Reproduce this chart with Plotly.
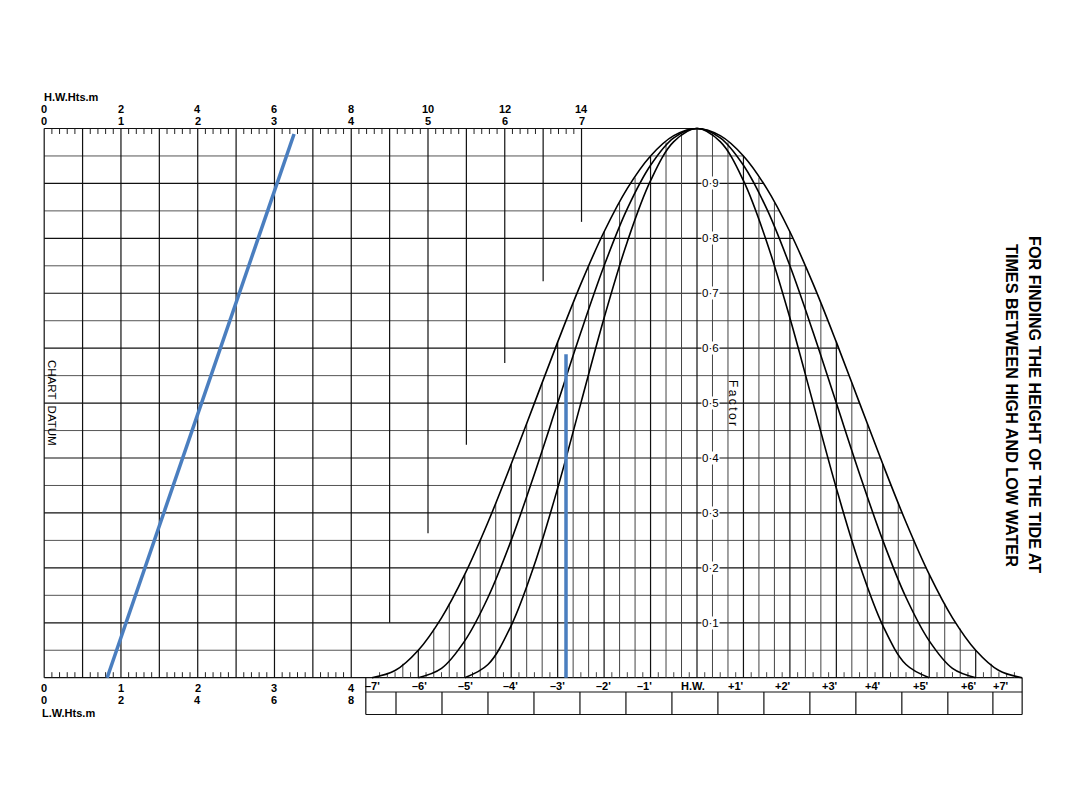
import numpy as np
import plotly.graph_objects as go

# ---------------- data ----------------
# Tidal curves (hours from High Water -> factor), three durations
curve7_hours = [-7, -6.5, -6, -5.5, -5, -4.5, -4, -3.5, -3, -2.5, -2, -1.5, -1, -0.5, 0,
                0.5, 1, 1.5, 2, 2.5, 3, 3.5, 4, 4.5, 5, 5.5, 6, 6.5, 7]
curve7_factor = [0, 0.013, 0.050, 0.109, 0.188, 0.283, 0.389, 0.500, 0.611, 0.717, 0.812, 0.891, 0.950, 0.987, 1.0,
                 0.987, 0.950, 0.891, 0.812, 0.717, 0.611, 0.500, 0.389, 0.283, 0.188, 0.109, 0.050, 0.013, 0]
curve6_hours = [-6, -5.5, -5, -4.5, -4, -3.5, -3, -2.5, -2, -1.5, -1, -0.5, 0,
                0.5, 1, 1.5, 2, 2.5, 3, 3.5, 4, 4.5, 5, 5.5, 6]
curve6_factor = [0, 0.017, 0.067, 0.146, 0.250, 0.371, 0.500, 0.629, 0.750, 0.854, 0.933, 0.983, 1.0,
                 0.983, 0.933, 0.854, 0.750, 0.629, 0.500, 0.371, 0.250, 0.146, 0.067, 0.017, 0]
curve5_hours = [-5, -4.5, -4, -3.5, -3, -2.5, -2, -1.5, -1, -0.5, 0,
                0.5, 1, 1.5, 2, 2.5, 3, 3.5, 4, 4.5, 5]
curve5_factor = [0, 0.024, 0.095, 0.206, 0.345, 0.500, 0.655, 0.794, 0.905, 0.976, 1.0,
                 0.976, 0.905, 0.794, 0.655, 0.500, 0.345, 0.206, 0.095, 0.024, 0]

# Height scales (in H.W. scale units)
hw_top_values = [0, 2, 4, 6, 8, 10, 12, 14]
hw_top_labels = ["0", "2", "4", "6", "8", "10", "12", "14"]
hw_top_labels2 = ["0", "1", "2", "3", "4", "5", "6", "7"]
lw_values = [0, 2, 4, 6, 8]
lw_labels1 = ["0", "1", "2", "3", "4"]
lw_labels2 = ["0", "2", "4", "6", "8"]
hw_full_lines = [0, 1, 2, 3, 4, 5, 6, 7, 8]
hw_part_lines = [9, 10, 11, 12, 13, 14]
hw_part_lower_factor = [0.100, 0.263, 0.424, 0.573, 0.722, 0.830]

# Time scale
time_labels = ["–7'", "–6'", "–5'", "–4'", "–3'", "–2'", "–1'", "H.W.",
               "+1'", "+2'", "+3'", "+4'", "+5'", "+6'", "+7'"]
time_label_hours = [-6.98, -5.97, -4.99, -4.01, -3.01, -2.01, -1.12, -0.09,
                    0.84, 1.85, 2.86, 3.79, 4.82, 5.86, 6.54]
box_divider_hours = [-6.48, -5.49, -4.50, -3.51, -2.52, -1.53, -0.54, 0.45,
                     1.44, 2.43, 3.42, 4.41, 5.40, 6.37]
box_left_hour = -7.13
box_right_hour = 7.0

# Factor scale
factor_levels = [0.1, 0.2, 0.3, 0.4, 0.5, 0.6, 0.7, 0.8, 0.9]
factor_labels = ["0·1", "0·2", "0·3", "0·4", "0·5", "0·6", "0·7", "0·8", "0·9"]

# Worked example (blue)
blue_diag_hw = [1.64, 6.51]
blue_diag_factor = [0.0, 0.99]
blue_vert_hours = [-2.82, -2.82]
blue_vert_factor = [0.0, 0.589]

# ---------------- layout geometry ----------------
W, H = 1080, 810
OFF = 8.0                               # page body margin
PX_HW0, PX_PER_HW = 44.2 - OFF, 38.38   # H.W. height scale
PX_T0, PX_PER_H = 697.0 - OFF, 46.45    # time scale (H.W.)
PX_F0, PX_PER_F = 677.7 - OFF, 549.2    # factor scale

x_range = [(0 - PX_T0) / PX_PER_H, (W - PX_T0) / PX_PER_H]
x2_range = [(0 - PX_HW0) / PX_PER_HW, (W - PX_HW0) / PX_PER_HW]
y_range = [(PX_F0 - H) / PX_PER_F, PX_F0 / PX_PER_F]
T_LEFT = (PX_HW0 - PX_T0) / PX_PER_H   # left border expressed in hours


def fy(px):
    return (PX_F0 - (px - OFF)) / PX_PER_F


def px_x(px):
    return (px - OFF) / W


def px_y(py):
    return 1 - (py - OFF) / H


TICK = 5.5 / PX_PER_F

c7_t = np.array(curve7_hours, float)
c7_f = np.array(curve7_factor, float)
half = c7_t >= 0
fall_t = c7_t[half]
fall_f = c7_f[half]


def right_end(level):
    return float(np.interp(level, fall_f[::-1], fall_t[::-1]))


def seg_trace(xs, ys, xaxis, color, width):
    return go.Scatter(x=xs, y=ys, mode="lines", xaxis=xaxis, yaxis="y",
                      line=dict(color=color, width=width), hoverinfo="skip",
                      showlegend=False)


traces = []

# vertical H.W. lines in the left graph
vx, vy = [], []
for h in hw_full_lines:
    vx += [h, h, None]; vy += [0, 1, None]
for h, fl in zip(hw_part_lines, hw_part_lower_factor):
    vx += [h, h, None]; vy += [1, fl, None]
traces.append(seg_trace(vx, vy, "x2", "#111", 1.2))

# ticks on top and bottom height scales
tx, ty = [], []
for i in range(0, 71):
    v = i * 0.2
    if abs(v - round(v)) < 1e-6:
        continue
    tx += [v, v, None]; ty += [1, 1 - TICK, None]
for i in range(0, 41):
    v = i * 0.2
    if abs(v - round(v)) < 1e-6:
        continue
    tx += [v, v, None]; ty += [0, TICK, None]
traces.append(seg_trace(tx, ty, "x2", "#222", 1.0))

# horizontal factor lines
mx, my, nx, ny = [], [], [], []
for k in range(1, 20):
    lev = k * 0.05
    xr = right_end(lev)
    if k % 2 == 0:
        mx += [T_LEFT, xr, None]; my += [lev, lev, None]
    else:
        nx += [T_LEFT, xr, None]; ny += [lev, lev, None]
mx += [T_LEFT, 0, None, T_LEFT, 7.0, None]
my += [1, 1, None, 0, 0, None]
traces.append(seg_trace(nx, ny, "x", "#555", 1.0))
traces.append(seg_trace(mx, my, "x", "#111", 1.2))

# 20-minute vertical lines under the outer curve
ax_, ay_, bx_, by_ = [], [], [], []
for k in range(-20, 21):
    t = k / 3.0
    top = 1.0 if k == 0 else float(np.interp(t, c7_t, c7_f))
    if k % 3 == 0:
        ax_ += [t, t, None]; ay_ += [0, top, None]
    else:
        bx_ += [t, t, None]; by_ += [0, top, None]
# 10-minute ticks on the time axis
for k in range(-42, 43):
    if k % 2 == 0:
        continue
    t = k / 6.0
    bx_ += [t, t, None]; by_ += [0, TICK, None]
traces.append(seg_trace(bx_, by_, "x", "#444", 1.0))
traces.append(seg_trace(ax_, ay_, "x", "#111", 1.2))

# box under the time axis
fb1, fb2 = fy(692), fy(714.5)
bxs = [box_left_hour, box_right_hour, None, box_left_hour, box_right_hour, None,
       box_left_hour, box_left_hour, None, box_right_hour, box_right_hour, None]
bys = [fb1, fb1, None, fb2, fb2, None, 0, fb2, None, 0, fb2, None]
for d in box_divider_hours:
    bxs += [d, d, None]; bys += [fb1, fb2, None]
traces.append(seg_trace(bxs, bys, "x", "#111", 1.2))

# tidal curves
for tt, ff in [(curve7_hours, curve7_factor), (curve6_hours, curve6_factor),
               (curve5_hours, curve5_factor)]:
    traces.append(go.Scatter(x=tt, y=ff, mode="lines", xaxis="x", yaxis="y",
                             line=dict(color="#000", width=1.6, shape="spline", smoothing=1.0),
                             hoverinfo="skip", showlegend=False))

# blue worked example
BLUE = "#4a7ebf"
traces.append(go.Scatter(x=blue_diag_hw, y=blue_diag_factor, mode="lines", xaxis="x2", yaxis="y",
                         line=dict(color=BLUE, width=3.5), hoverinfo="skip", showlegend=False))
traces.append(go.Scatter(x=blue_vert_hours, y=blue_vert_factor, mode="lines", xaxis="x", yaxis="y",
                         line=dict(color=BLUE, width=3.5), hoverinfo="skip", showlegend=False))

fig = go.Figure(data=traces)

FONT = "Liberation Sans, Arial, Helvetica, sans-serif"
ann = []


def txt(x, y, s, xref="x", yref="y", size=11, **kw):
    d = dict(x=x, y=y, xref=xref, yref=yref, text=s, showarrow=False,
             font=dict(family=FONT, size=size, color="#000"),
             xanchor=kw.pop("xanchor", "center"), yanchor=kw.pop("yanchor", "middle"))
    d.update(kw)
    ann.append(d)


txt(-0.06, fy(97), "<b>H.W.Hts.m</b>", xref="x2", xanchor="left")
for v, a, b in zip(hw_top_values, hw_top_labels, hw_top_labels2):
    txt(v, fy(109), "<b>" + a + "</b>", xref="x2")
    txt(v, fy(121), "<b>" + b + "</b>", xref="x2")
for v, a, b in zip(lw_values, lw_labels1, lw_labels2):
    txt(v, fy(688), "<b>" + a + "</b>", xref="x2")
    txt(v, fy(700), "<b>" + b + "</b>", xref="x2")
txt(-0.12, fy(712.5), "<b>L.W.Hts.m</b>", xref="x2", xanchor="left")

for t, s in zip(time_label_hours, time_labels):
    txt(t, fy(685.5), "<b>" + s + "</b>")

for lev, s in zip(factor_levels, factor_labels):
    ann.append(dict(x=(710 - OFF - PX_T0) / PX_PER_H, y=lev, xref="x", yref="y", text=s,
                    showarrow=False, bgcolor="white", borderpad=0,
                    font=dict(family=FONT, size=11.5, color="#000"),
                    xanchor="center", yanchor="middle"))

txt(px_x(733), px_y(403), "F\u2009a\u2009c\u2009t\u2009o\u2009r", xref="paper", yref="paper",
    size=12, textangle=90)
txt(px_x(52), px_y(403), "CHART  DATUM", xref="paper", yref="paper", size=11.5, textangle=90)
txt(px_x(1035), px_y(404), "<b>FOR FINDING THE HEIGHT OF THE TIDE AT</b>", xref="paper",
    yref="paper", size=16.2, textangle=90)
txt(px_x(1012), px_y(405), "<b>TIMES BETWEEN HIGH AND LOW WATER</b>", xref="paper",
    yref="paper", size=16.2, textangle=90)

fig.update_layout(
    width=W, height=H, autosize=False,
    margin=dict(l=0, r=0, t=0, b=0, pad=0),
    paper_bgcolor="white", plot_bgcolor="white",
    xaxis=dict(range=x_range, visible=False, fixedrange=True),
    xaxis2=dict(range=x2_range, visible=False, overlaying="x", anchor="y", fixedrange=True),
    yaxis=dict(range=y_range, visible=False, fixedrange=True),
    annotations=ann,
    showlegend=False,
)

fig.write_html("out.html")
